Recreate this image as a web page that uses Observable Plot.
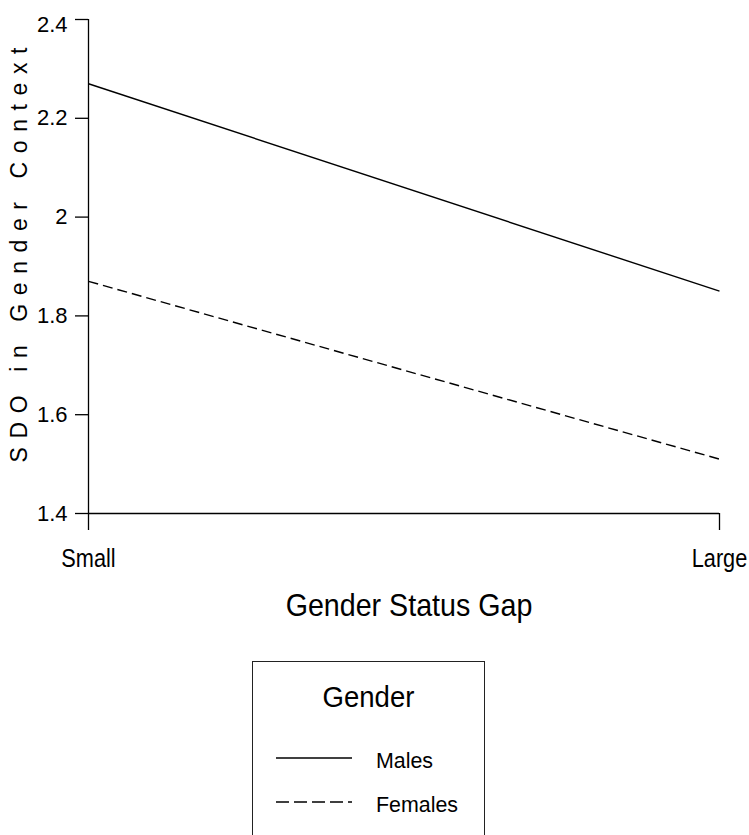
<!DOCTYPE html>
<html>
<head>
<meta charset="utf-8">
<script src="https://cdn.jsdelivr.net/npm/d3@7"></script>
<script src="https://cdn.jsdelivr.net/npm/@observablehq/plot@0.6"></script>
<style>
  html, body { margin: 0; padding: 0; background: #fff; }
  #chart { width: 749px; }
</style>
</head>
<body>
<div id="chart"></div>
<script>
// Mean SDO (gender context) by gender status gap, one line per gender
const gapLevels = ["Small", "Large"];
const malesSDO = [2.27, 1.85];
const femalesSDO = [1.87, 1.51];
const genders = ["Males", "Females"];
const genderDash = ["none", "10,5"];
const legendDash = ["none", "13,5"];
const yTickValues = [1.4, 1.6, 1.8, 2.0, 2.2, 2.4];
const xTitle = "Gender Status Gap";
const yTitle = "SDO in Gender Context";
const legendTitle = "Gender";

const seriesValues = { Males: malesSDO, Females: femalesSDO };
const rows = genders.flatMap(g => gapLevels.map((gap, i) => ({ gap, sdo: seriesValues[g][i], gender: g })));

const fontStack = "'Liberation Sans', Arial, Helvetica, sans-serif";

// squeeze a text element horizontally about its own anchor point
function squeeze(sel, sx) {
  sel.each(function () {
    const t = this.getAttribute("transform") || "";
    this.setAttribute("transform", `${t} scale(${sx},1)`);
  });
}

const chart = Plot.plot({
  width: 749,
  height: 640,
  marginTop: 19,
  marginLeft: 88,
  marginRight: 30,
  marginBottom: 127,
  style: { fontFamily: fontStack, background: "white", color: "black", overflow: "visible" },
  x: { type: "point", domain: gapLevels, padding: 0 },
  y: { domain: [1.4, 2.4] },
  marks: [
    Plot.axisY({
      ticks: yTickValues, tickSize: 13, tickPadding: 8, fontSize: 22,
      tickFormat: d => String(d), label: null, strokeWidth: 1.3
    }),
    Plot.axisX({ tickSize: 17, tickPadding: 18, fontSize: 26.5, label: null, strokeWidth: 1.3 }),
    Plot.ruleX([gapLevels[0]], { y1: 1.4, y2: 2.4, strokeWidth: 1.3 }),
    Plot.ruleY([1.4], { strokeWidth: 1.3 }),
    ...genders.map((g, i) => Plot.line(rows, {
      filter: d => d.gender === g,
      x: "gap", y: "sdo",
      stroke: "black", strokeWidth: 1.4,
      strokeDasharray: genderDash[i], strokeLinecap: "butt"
    })),
    Plot.text([xTitle], {
      frameAnchor: "bottom", lineAnchor: "middle", textAnchor: "middle", dx: 5, dy: 92,
      fontSize: 32
    }),
    Plot.text([yTitle], {
      frameAnchor: "left", lineAnchor: "middle", textAnchor: "middle", rotate: -90, dx: -69, dy: -15.8,
      fontSize: 23
    })
  ]
});

const svg = d3.select(chart);
svg.selectAll("text").filter(function () { return this.textContent === yTitle; })
  .style("letter-spacing", "8.6px");
squeeze(svg.selectAll('[aria-label="x-axis tick label"] text'), 0.82);
squeeze(svg.selectAll("text").filter(function () { return this.textContent === xTitle; }), 0.895);
// keep the topmost y label clear of the top edge
svg.selectAll('[aria-label="y-axis tick label"] text')
  .filter(function () { return this.textContent === String(d3.max(yTickValues)); })
  .each(function () {
    this.setAttribute("transform", `${this.getAttribute("transform") || ""} translate(0,5)`);
  });

document.getElementById("chart").appendChild(chart);

// Legend box below the plot
const legend = d3.select("#chart").append("div")
  .style("margin-top", "21px")
  .style("margin-left", "252px")
  .style("width", "231px")
  .style("height", "200px")
  .style("border", "1px solid #222");

const lsvg = legend.append("svg").attr("width", 231).attr("height", 200).style("display", "block")
  .style("font-family", fontStack);
lsvg.append("text")
  .attr("transform", "translate(115.5,45) scale(0.94,1)").attr("text-anchor", "middle")
  .style("font-size", "29.3px")
  .text(legendTitle);

genders.forEach((g, i) => {
  const y = 96 + i * 44;
  lsvg.append("line")
    .attr("x1", 23).attr("x2", 99).attr("y1", y).attr("y2", y)
    .attr("stroke", "black").attr("stroke-width", 1.4)
    .attr("stroke-dasharray", legendDash[i]);
  lsvg.append("text")
    .attr("transform", `translate(123,${y + 10}) scale(0.955,1)`)
    .style("font-size", "22.4px")
    .text(g);
});
</script>
</body>
</html>
